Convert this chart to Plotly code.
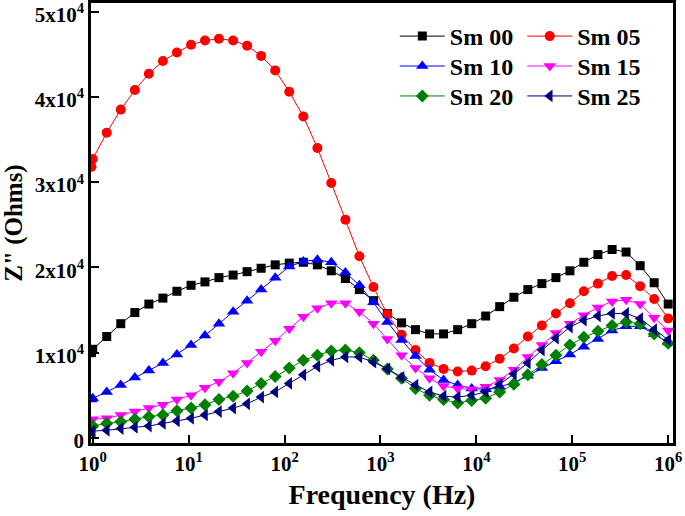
import plotly.graph_objects as go

# Frequency (Hz): one extra point just below 1 Hz, then 42 log-spaced points to 1 MHz
freq = [0.97, 1.0, 1.40, 1.96, 2.75, 3.85, 5.39, 7.55, 10.6, 14.8, 20.7, 29.1, 40.7, 57.0,
        79.9, 112, 157, 220, 307, 431, 603, 845, 1180, 1660, 2320, 3250, 4550, 6380,
        8940, 12500, 17500, 24600, 34400, 48200, 67500, 94500, 132000, 185000, 260000,
        364000, 510000, 714000, 1000000]

sm00 = [10000, 10400, 11900, 13400, 14700, 15700, 16400, 17200, 17900, 18300, 18800, 19100,
        19500, 19900, 20300, 20500, 20600, 20300, 19600, 18700, 17400, 16100, 14600, 13500,
        12700, 12200, 12200, 12700, 13400, 14300, 15400, 16500, 17400, 18100, 18800, 19600,
        20600, 21500, 22100, 21800, 20200, 18200, 15700]
sm05 = [31800, 32700, 35800, 38500, 40800, 42700, 44200, 45200, 46100, 46600, 46800, 46600,
        46000, 44800, 43100, 40600, 37700, 34000, 29900, 25600, 21300, 17700, 14500, 12100,
        10300, 8800, 8100, 7800, 7900, 8400, 9300, 10500, 11900, 13200, 14600, 15800, 17200,
        18100, 19000, 19100, 17800, 16300, 14000]
sm10 = [4500, 4650, 5400, 6200, 7100, 7900, 8800, 9800, 10900, 12000, 13400, 14800, 16100,
        17400, 18800, 20100, 20700, 20900, 20600, 19400, 17900, 15900, 13600, 11500, 9600,
        8000, 6800, 6200, 5800, 5700, 6000, 6500, 7300, 8200, 9000, 9800, 10700, 11600,
        12600, 13100, 13100, 12200, 11200]
sm15 = [2100, 2200, 2300, 2700, 3100, 3500, 3900, 4500, 5000, 5900, 6600, 7600, 8800, 10100,
        11400, 12800, 14200, 15200, 15800, 15800, 14800, 13400, 11600, 9700, 8200, 7000,
        6100, 5800, 5700, 6000, 6800, 8000, 9500, 10900, 12300, 13400, 14400, 15300, 16000,
        16200, 15700, 14100, 12600]
sm20 = [1300, 1400, 1700, 1900, 2200, 2500, 2700, 3200, 3500, 3900, 4500, 4900, 5500, 6400,
        7200, 8200, 9100, 9700, 10200, 10300, 10000, 9100, 8100, 7000, 5800, 5000, 4500,
        4100, 4400, 4650, 5400, 6300, 7400, 8600, 9700, 10900, 11800, 12500, 13200, 13600,
        13400, 12200, 11100]
sm25 = [700, 800, 900, 1100, 1250, 1400, 1700, 2000, 2300, 2700, 3100, 3500, 4000, 4800,
        5400, 6400, 7400, 8400, 9100, 9500, 9500, 8900, 8100, 7100, 6200, 5400, 4900, 4800,
        5000, 5400, 6300, 7500, 8800, 10300, 11700, 13000, 13800, 14300, 14600, 14600, 14000,
        12700, 11500]

names = ["Sm 00", "Sm 05", "Sm 10", "Sm 15", "Sm 20", "Sm 25"]
series = [sm00, sm05, sm10, sm15, sm20, sm25]
colors = ["#000000", "#FF0000", "#0000FF", "#FF00FF", "#008000", "#000080"]
symbols = ["square", "circle", "triangle-up", "triangle-down", "diamond", "triangle-left"]
sizes = [9, 10, 11, 11, 10, 11]

y_tickvals = [0, 10000, 20000, 30000, 40000, 50000]
y_ticktext = ["0", "1x10<sup>4</sup>", "2x10<sup>4</sup>", "3x10<sup>4</sup>",
              "4x10<sup>4</sup>", "5x10<sup>4</sup>"]
x_tickvals = [1, 10, 100, 1000, 10000, 100000, 1000000]
x_ticktext = ["10<sup>%d</sup>" % i for i in range(7)]

FONT = "Liberation Serif"

fig = go.Figure()
legend_ids = ["legend", "legend2", "legend3", "legend4", "legend5", "legend6"]
for n, s, c, sym, sz, lg in zip(names, series, colors, symbols, sizes, legend_ids):
    fig.add_trace(go.Scatter(
        x=freq, y=s, name=n, mode="lines+markers",
        line=dict(color=c, width=1),
        marker=dict(symbol=sym, size=sz, color=c, line=dict(width=0)),
        legend=lg,
    ))

def axis_style():
    return dict(
        showline=True, linecolor="black", linewidth=2.5, mirror=True,
        ticks="inside", ticklen=8, tickwidth=2, tickcolor="black",
        showgrid=False, zeroline=False, ticklabeloverflow="allow",
        tickfont=dict(family=FONT, size=21, color="black", weight="bold"),
    )

fig.update_xaxes(
    type="log", range=[-0.018, 6.05],
    tickvals=x_tickvals, ticktext=x_ticktext,
    title=dict(text="Frequency (Hz)", font=dict(family=FONT, size=28, color="black", weight="bold"),
               standoff=10),
    **axis_style(),
)
fig.update_yaxes(
    range=[-590, 51000],
    tickvals=y_tickvals, ticktext=y_ticktext, ticklabelshift=3,
    title=dict(text="Z\" (Ohms)", font=dict(family=FONT, size=25, color="black", weight="bold"),
               standoff=8),
    **axis_style(),
)

legend_font = dict(family=FONT, size=24, color="black", weight="bold")
legend_x = [0.522, 0.741, 0.522, 0.741, 0.522, 0.741]
legend_y = [0.975, 0.975, 0.907, 0.907, 0.839, 0.839]
legend_layout = {}
for lg, lx, ly in zip(legend_ids, legend_x, legend_y):
    legend_layout[lg] = dict(x=lx, y=ly, xanchor="left", yanchor="top", font=legend_font,
                             bgcolor="rgba(0,0,0,0)", itemwidth=45)

fig.update_layout(
    width=685, height=516,
    margin=dict(l=91, r=12, t=3, b=73, autoexpand=False),
    paper_bgcolor="white", plot_bgcolor="white",
    showlegend=True,
    **legend_layout,
)

fig.write_html("out.html", config={"displayModeBar": False},
               post_script="document.body.style.margin='0';")
